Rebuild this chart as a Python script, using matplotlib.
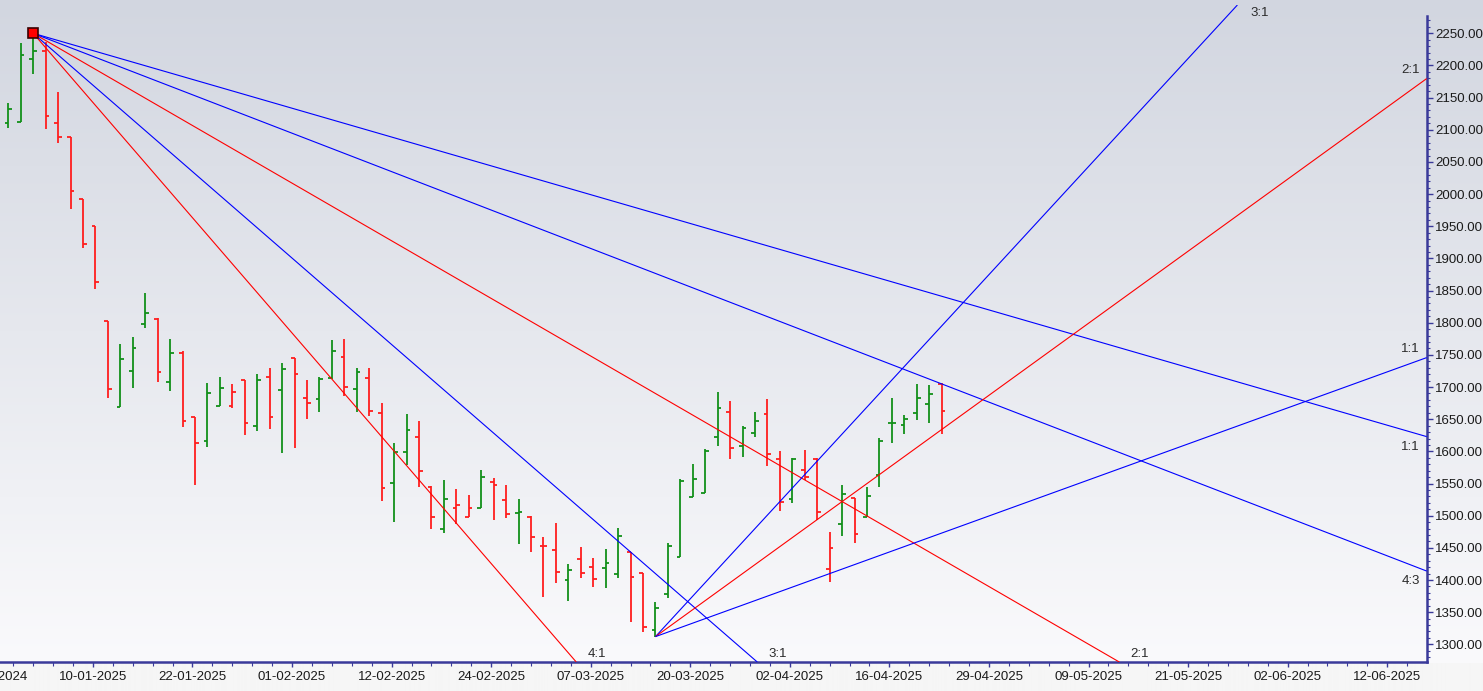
import numpy as np
import matplotlib
matplotlib.use("Agg")
import matplotlib.pyplot as plt
from matplotlib.ticker import FixedLocator, FuncFormatter

plt.rcParams['font.family'] = ['Liberation Sans', 'DejaVu Sans']

# ---------------- data (OHLC, one bar per trading day from 01-01-2025) ----------------
opens = [2110.1, 2112.6, 2209.6, 2223.0, 2110.1, 2088.3, 1992.4, 1950.9, 1803.2, 1669.0,
         1725.4, 1798.0, 1806.3, 1708.3, 1753.4, 1653.0, 1616.6, 1671.0, 1671.0, 1711.0,
         1640.0, 1716.1, 1695.0, 1745.2, 1683.5, 1681.4, 1714.6, 1747.5, 1696.7, 1714.6,
         1660.1, 1551.3, 1599.5, 1622.8, 1545.1, 1479.3, 1512.4, 1498.4, 1511.5, 1552.4,
         1524.4, 1504.6, 1498.4, 1453.4, 1446.7, 1400.0, 1432.7, 1420.7, 1419.2, 1409.4,
         1444.0, 1411.4, 1322.3, 1378.3, 1436.3, 1529.6, 1535.8, 1622.8, 1661.7, 1608.8,
         1629.0, 1658.1, 1587.7, 1526.0, 1571.0, 1587.7, 1416.7, 1487.1, 1527.1, 1498.4,
         1563.3, 1643.7, 1641.0, 1659.2, 1673.2, 1704.3]
highs = [2142.1, 2235.4, 2250.0, 2236.5, 2159.2, 2088.3, 1992.4, 1950.9, 1803.2, 1766.5,
         1778.3, 1846.7, 1807.8, 1774.3, 1755.6, 1653.9, 1706.8, 1716.1, 1704.8, 1711.0,
         1719.8, 1730.1, 1737.9, 1745.2, 1711.0, 1716.1, 1772.7, 1774.3, 1730.1, 1730.1,
         1675.7, 1613.5, 1658.1, 1647.3, 1546.2, 1555.5, 1541.5, 1532.2, 1571.0, 1558.1,
         1547.7, 1526.0, 1499.5, 1466.4, 1488.2, 1424.9, 1450.9, 1434.7, 1448.3, 1481.4,
         1444.0, 1411.4, 1366.3, 1457.1, 1557.1, 1580.4, 1603.2, 1692.8, 1678.8, 1640.0,
         1661.7, 1681.4, 1600.6, 1590.2, 1602.2, 1589.2, 1474.2, 1547.7, 1528.0, 1544.2,
         1621.3, 1683.5, 1656.6, 1704.8, 1703.2, 1705.8]
lows = [2102.3, 2112.6, 2186.3, 2100.7, 2078.9, 1976.4, 1915.7, 1852.0, 1682.5, 1669.0,
        1698.1, 1791.4, 1707.9, 1694.3, 1638.4, 1548.2, 1607.3, 1670.6, 1667.0, 1625.5,
        1632.2, 1634.3, 1597.0, 1604.8, 1649.9, 1660.8, 1712.5, 1686.6, 1661.2, 1655.0,
        1523.3, 1489.8, 1578.8, 1545.1, 1478.9, 1472.6, 1486.6, 1497.5, 1511.5, 1493.3,
        1496.0, 1455.5, 1443.1, 1374.1, 1395.0, 1367.9, 1402.7, 1388.7, 1387.1, 1402.7,
        1334.7, 1319.7, 1312.0, 1371.6, 1436.3, 1529.6, 1535.8, 1608.8, 1587.7, 1591.3,
        1622.4, 1577.3, 1507.8, 1520.2, 1555.5, 1493.3, 1396.5, 1468.9, 1457.1, 1497.5,
        1544.2, 1612.4, 1626.6, 1648.8, 1643.7, 1626.6]
closes = [2131.8, 2216.3, 2223.0, 2121.9, 2089.2, 2005.3, 1922.4, 1863.8, 1697.0, 1743.2,
          1760.7, 1815.2, 1723.9, 1753.0, 1647.7, 1613.0, 1690.8, 1698.5, 1692.8, 1644.6,
          1711.0, 1653.9, 1727.6, 1719.8, 1675.2, 1712.0, 1756.5, 1700.6, 1723.9, 1663.3,
          1542.6, 1598.6, 1633.3, 1570.0, 1498.4, 1525.5, 1516.6, 1512.4, 1560.6, 1547.7,
          1502.6, 1506.5, 1467.4, 1453.4, 1413.0, 1415.6, 1411.4, 1401.6, 1426.0, 1469.0,
          1405.2, 1327.4, 1357.0, 1453.4, 1554.4, 1557.1, 1601.1, 1667.9, 1605.7, 1636.8,
          1647.7, 1596.0, 1521.8, 1588.2, 1560.6, 1506.2, 1450.3, 1533.7, 1471.6, 1530.6,
          1616.6, 1643.7, 1649.9, 1682.5, 1688.7, 1663.3]

# date labels and their trading-day index (0 = 01-01-2025)
tick_labels = ['31-12-2024', '10-01-2025', '22-01-2025', '01-02-2025', '12-02-2025',
               '24-02-2025', '07-03-2025', '20-03-2025', '02-04-2025', '16-04-2025',
               '29-04-2025', '09-05-2025', '21-05-2025', '02-06-2025', '12-06-2025']
tick_days = [-1, 7, 15, 23, 31, 39, 47, 55, 63, 71, 79, 87, 95, 103, 111]

# Gann fans: pivot bar, pivot price, price-per-bar for 1:1
fan_high_bar, fan_high_price, fan_high_unit = 2, 2250.0, 5.6
fan_high_names = ['4:1', '3:1', '2:1', '4:3', '1:1']
fan_high_mult = [4, 3, 2, 4 / 3, 1]
fan_high_colors = ['#ff0000', '#0000ff', '#ff0000', '#0000ff', '#0000ff']

fan_low_bar, fan_low_price, fan_low_unit = 52, 1312.0, 7.0
fan_low_names = ['3:1', '2:1', '1:1']
fan_low_mult = [3, 2, 1]
fan_low_colors = ['#0000ff', '#ff0000', '#0000ff']

FS = 9.5

# ---------------- figure ----------------
W, H = 1483, 691
fig = plt.figure(figsize=(W / 100, H / 100), dpi=100)

# background gradient
bg = fig.add_axes([0, 0, 1, 1], zorder=-10)
rows = np.arange(H)
t = np.clip(rows / 662.0, 0, 1)[:, None]
top = np.array([210, 214, 224]) / 255.0
bot = np.array([250, 250, 252]) / 255.0
grad = top * (1 - t) + bot * t
grad[rows >= 663] = np.array([246, 246, 246]) / 255.0
img = np.repeat(grad[:, None, :], 4, axis=1)
bg.imshow(img, aspect='auto', extent=[0, 1, 0, 1], origin='upper')
bg.axis('off')

ax_left, ax_right, ax_top, ax_bot = 0, 1426.7, 5, 662
ax = fig.add_axes([ax_left / W, (H - ax_bot) / H, (ax_right - ax_left) / W, (ax_bot - ax_top) / H])
ax.patch.set_visible(False)

px_per_bar = 12.445
x0_px = 8.3
xlim = (-x0_px / px_per_bar, (ax_right - x0_px) / px_per_bar)
ylim = (1272.56, 2294.0)
ax.set_xlim(*xlim)
ax.set_ylim(*ylim)

# ---------------- OHLC bars ----------------
GREEN, RED = '#12901a', '#ff1e1e'
n = len(closes)
x = np.arange(n)
cols = [GREEN] + [GREEN if closes[i] >= closes[i - 1] else RED for i in range(1, n)]
tl = 0.3
ax.vlines(x, lows, highs, colors=cols, lw=1.3, zorder=3)
ax.hlines(opens, x - tl, x, colors=cols, lw=1.3, zorder=3)
ax.hlines(closes, x, x + tl, colors=cols, lw=1.3, zorder=3)

# ---------------- Gann fans ----------------
def exit_point(k0, p0, s):
    xr = xlim[1]
    p_r = p0 + s * (xr - k0)
    if s < 0 and p_r < ylim[0]:
        return k0 + (ylim[0] - p0) / s, ylim[0], 'bottom'
    if s > 0 and p_r > ylim[1]:
        return k0 + (ylim[1] - p0) / s, ylim[1], 'top'
    return xr, p_r, 'right'

def draw_fan(k0, p0, unit, names, mults, colors, sign):
    for name, m, c in zip(names, mults, colors):
        s = sign * unit * m
        ke, pe, side = exit_point(k0, p0, s)
        ax.plot([k0, ke], [p0, pe], color=c, lw=0.8, zorder=4, solid_capstyle='butt')
        if side == 'bottom':
            off, ha = (11, 8), 'left'
        elif side == 'top':
            off, ha = (13, -8), 'left'
        elif s < 0:
            off, ha = (-7, -10), 'right'
        else:
            off, ha = (-7, 9), 'right'
        ax.annotate(name, xy=(ke, pe), xytext=off, textcoords='offset pixels',
                    ha=ha, va='center', fontsize=FS, color='#2a2a2a',
                    annotation_clip=False, zorder=6)

draw_fan(fan_high_bar, fan_high_price, fan_high_unit, fan_high_names,
         fan_high_mult, fan_high_colors, -1)
draw_fan(fan_low_bar, fan_low_price, fan_low_unit, fan_low_names,
         fan_low_mult, fan_low_colors, +1)

ax.plot([fan_high_bar], [fan_high_price], marker='s', ms=6.5, mfc='#ff0000',
        mec='#3a0000', mew=1.2, zorder=7)

# ---------------- axes styling ----------------
AXC = '#3a3a9a'
for s in ['left', 'top']:
    ax.spines[s].set_visible(False)
ax.spines['right'].set_color(AXC)
ax.spines['right'].set_linewidth(1.8)
ax.spines['right'].set_bounds(ylim[0], 2277)
ax.spines['bottom'].set_color(AXC)
ax.spines['bottom'].set_linewidth(1.8)

ax.yaxis.tick_right()
ax.yaxis.set_major_locator(FixedLocator(np.arange(1300, 2251, 50)))
ax.yaxis.set_minor_locator(FixedLocator([v for v in np.arange(1280, 2280, 10) if v % 50 != 0]))
ax.yaxis.set_major_formatter(FuncFormatter(lambda v, p: f'{v:.2f}'))
ax.tick_params(axis='y', which='major', direction='out', length=4.5, width=1.0,
               color=AXC, labelsize=FS, pad=1.5, labelcolor='#1a1a1a')
ax.tick_params(axis='y', which='minor', direction='out', length=2.5, width=0.8, color=AXC)

shift = -0.2
vis_pos = [d + shift for d in tick_days if xlim[0] <= d + shift <= xlim[1]]
vis_lab = [l for d, l in zip(tick_days, tick_labels) if xlim[0] <= d + shift <= xlim[1]]
ax.set_xticks(vis_pos)
ax.set_xticklabels(vis_lab)
minor = [tick_days[0] + shift + 1.6 * j for j in range(0, 80)]
minor = [m for m in minor if xlim[0] <= m <= xlim[1] and all(abs(m - v) > 0.1 for v in vis_pos)]
ax.xaxis.set_minor_locator(FixedLocator(minor))
ax.tick_params(axis='x', which='major', direction='out', length=3.6, width=1.0,
               color=AXC, labelsize=FS, pad=3.2, labelcolor='#1a1a1a')
ax.tick_params(axis='x', which='minor', direction='out', length=3.0, width=0.8, color=AXC)

# labels whose tick is left of the visible range (partly cut off, as in the original)
for d, l in zip(tick_days, tick_labels):
    if d + shift < xlim[0]:
        ax.annotate(l, xy=(d + shift, ylim[0]), xytext=(0, -9.5), textcoords='offset pixels',
                    ha='center', va='top', fontsize=FS, color='#1a1a1a', annotation_clip=False)

fig.savefig('out.png', dpi=100)
